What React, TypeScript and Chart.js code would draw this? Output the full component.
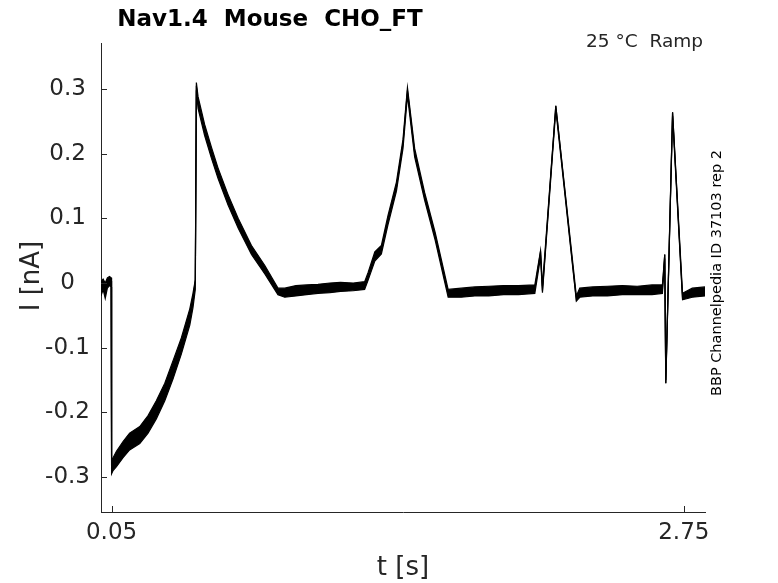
import React, { useEffect, useRef } from "react";
import { Chart, registerables } from "chart.js";

Chart.register(...registerables);

// Time points (s), grouped by phase of the ramp protocol
const times = [
  0, 0.01, 0.02, 0.03, 0.04, 0.048,
  0.05, 0.057, 0.073, 0.104, 0.135, 0.183, 0.222, 0.261, 0.301, 0.34, 0.379, 0.419, 0.434, 0.445,
  0.45, 0.458, 0.489, 0.521, 0.552, 0.599, 0.647, 0.71, 0.773, 0.835,
  0.867, 0.92, 0.97, 1.024, 1.08, 1.13, 1.19,
  1.244, 1.26, 1.292, 1.323, 1.354, 1.394, 1.425, 1.446, 1.48, 1.527, 1.577, 1.638,
  1.7, 1.764, 1.83, 1.9, 1.97,
  2.047, 2.074, 2.083, 2.146, 2.243, 2.259,
  2.32, 2.39, 2.46, 2.53, 2.6, 2.649,
  2.66, 2.665, 2.697, 2.744, 2.79, 2.85,
];

// Current (nA) of the sweeps: middle, upper and lower edge of the band
const sweepMid = [
  -0.008, 0.0, -0.018, 0.002, 0.004, 0.003,
  -0.29, -0.284, -0.273, -0.258, -0.245, -0.237, -0.219, -0.196, -0.168, -0.134, -0.098, -0.052, -0.026, 0.005,
  0.305, 0.278, 0.237, 0.201, 0.17, 0.129, 0.093, 0.051, 0.021, -0.013,
  -0.016, -0.012, -0.011, -0.008, -0.009, -0.006, -0.007,
  -0.005, 0.01, 0.041, 0.052, 0.098, 0.149, 0.216, 0.298, 0.201, 0.134, 0.072, -0.015,
  -0.016, -0.014, -0.013, -0.012, -0.012,
  -0.01, 0.049, -0.012, 0.274, -0.026, -0.016,
  -0.014, -0.013, -0.012, -0.012, -0.011, -0.01,
  0.044, -0.155, 0.264, -0.023, -0.016, -0.014,
];

const sweepHigh = [
  0.002, 0.006, 0.0, 0.008, 0.01, 0.008,
  -0.275, -0.27, -0.26, -0.245, -0.232, -0.222, -0.205, -0.182, -0.155, -0.12, -0.085, -0.04, -0.016, 0.005,
  0.31, 0.288, 0.245, 0.21, 0.178, 0.137, 0.1, 0.058, 0.027, -0.008,
  -0.008, -0.004, -0.003, -0.002, 0.0, 0.001, 0.0,
  0.002, 0.016, 0.048, 0.058, 0.104, 0.156, 0.222, 0.302, 0.208, 0.14, 0.078, -0.01,
  -0.008, -0.006, -0.005, -0.004, -0.004,
  -0.003, 0.05, -0.005, 0.274, -0.02, -0.008,
  -0.006, -0.005, -0.004, -0.005, -0.003, -0.003,
  0.044, -0.15, 0.264, -0.016, -0.008, -0.006,
];

const sweepLow = [
  -0.02, -0.01, -0.024, -0.008, -0.004, -0.006,
  -0.295, -0.29, -0.284, -0.27, -0.258, -0.248, -0.232, -0.21, -0.182, -0.148, -0.11, -0.065, -0.038, -0.01,
  0.298, 0.27, 0.228, 0.193, 0.162, 0.121, 0.085, 0.044, 0.014, -0.018,
  -0.022, -0.02, -0.018, -0.016, -0.015, -0.013, -0.012,
  -0.01, 0.004, 0.034, 0.045, 0.09, 0.142, 0.208, 0.29, 0.195, 0.128, 0.066, -0.022,
  -0.022, -0.02, -0.02, -0.018, -0.018,
  -0.016, 0.04, -0.015, 0.268, -0.028, -0.022,
  -0.02, -0.02, -0.018, -0.018, -0.018, -0.016,
  0.038, -0.155, 0.258, -0.026, -0.022, -0.02,
];

const xTicks = [0.05, 2.75];
const yTicks = [-0.3, -0.2, -0.1, 0, 0.1, 0.2, 0.3];

const axisColor = "#262626";
const fontFamily = "'DejaVu Sans', sans-serif";

// Inward tick marks and the free texts around the axes
const decorations = {
  id: "decorations",
  afterDraw(chart: any) {
    const ctx = chart.ctx;
    const area = chart.chartArea;
    const xs = chart.scales.x;
    const ys = chart.scales.y;
    ctx.save();
    ctx.strokeStyle = axisColor;
    ctx.lineWidth = 1;
    ctx.beginPath();
    xTicks.forEach((v) => {
      const px = Math.round(xs.getPixelForValue(v)) + 0.5;
      ctx.moveTo(px, area.bottom);
      ctx.lineTo(px, area.bottom - 6);
    });
    yTicks.forEach((v) => {
      const py = Math.round(ys.getPixelForValue(v)) + 0.5;
      ctx.moveTo(area.left, py);
      ctx.lineTo(area.left + 6, py);
    });
    ctx.stroke();

    ctx.fillStyle = "#000";
    ctx.font = "bold 23px " + fontFamily;
    ctx.textAlign = "center";
    ctx.textBaseline = "alphabetic";
    ctx.fillText("Nav1.4  Mouse  CHO_FT", 270, 26);

    ctx.fillStyle = axisColor;
    ctx.font = "18.5px " + fontFamily;
    ctx.textAlign = "right";
    ctx.fillText("25 °C  Ramp", 703, 47);

    ctx.font = "26px " + fontFamily;
    ctx.textAlign = "center";
    ctx.fillText("t [s]", 403, 575);

    ctx.save();
    ctx.translate(39, 276);
    ctx.rotate(-Math.PI / 2);
    ctx.fillText("I [nA]", 0, 0);
    ctx.restore();

    ctx.save();
    ctx.fillStyle = "#000";
    ctx.font = "14.5px " + fontFamily;
    ctx.translate(721, 273);
    ctx.rotate(-Math.PI / 2);
    ctx.fillText("BBP Channelpedia ID 37103 rep 2", 0, 0);
    ctx.restore();

    ctx.restore();
  },
};

const App = () => {
  const canvasRef = useRef<HTMLCanvasElement>(null);

  useEffect(() => {
    document.body.style.margin = "0";
    if (!canvasRef.current) return;

    const toPoints = (values: number[]) =>
      times.map((t, i) => ({ x: t, y: values[i] }));

    const sweep = (values: number[], extra = {}) => ({
      data: toPoints(values),
      borderColor: "#000",
      backgroundColor: "#000",
      borderWidth: 1.2,
      pointRadius: 0,
      tension: 0,
      fill: false,
      ...extra,
    });

    const chart = new Chart(canvasRef.current, {
      type: "line",
      data: {
        datasets: [
          sweep(sweepHigh),
          // the overlapping sweeps form a solid band down to the lowest one
          sweep(sweepLow, { fill: { target: 0 } }),
          sweep(sweepMid),
        ],
      },
      options: {
        animation: false,
        responsive: false,
        parsing: false,
        layout: { padding: { top: 43, right: 73, left: 0, bottom: 0 } },
        plugins: {
          legend: { display: false },
          tooltip: { enabled: false },
        },
        scales: {
          x: {
            type: "linear",
            position: "bottom",
            min: 0,
            max: 2.85,
            afterFit: (s: any) => {
              s.height = 71;
            },
            afterBuildTicks: (s: any) => {
              s.ticks = xTicks.map((v) => ({ value: v }));
            },
            grid: { drawOnChartArea: false, drawTicks: false },
            border: { display: true, color: axisColor, width: 1 },
            ticks: {
              autoSkip: false,
              maxRotation: 0,
              padding: 7,
              color: axisColor,
              font: { family: fontFamily, size: 23 },
              callback: (v: any) => Number(v).toFixed(2),
            },
          },
          y: {
            type: "linear",
            min: -0.354,
            max: 0.371,
            afterFit: (s: any) => {
              s.width = 101;
            },
            afterBuildTicks: (s: any) => {
              s.ticks = yTicks.map((v) => ({ value: v }));
            },
            grid: { drawOnChartArea: false, drawTicks: false },
            border: { display: true, color: axisColor, width: 1 },
            ticks: {
              crossAlign: "center",
              padding: 11,
              color: axisColor,
              font: { family: fontFamily, size: 23 },
              callback: (v: any) => (Number(v) === 0 ? "0" : Number(v).toFixed(1)),
            },
          },
        },
      },
      plugins: [decorations],
    });

    return () => {
      chart.destroy();
    };
  }, []);

  return <canvas ref={canvasRef} width={778} height={583} />;
};

export default App;
